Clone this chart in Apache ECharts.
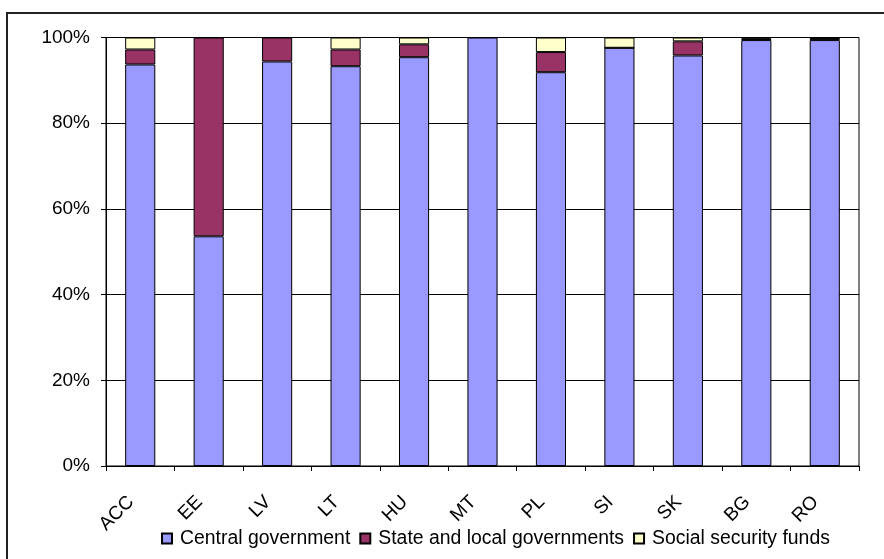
<!DOCTYPE html>
<html>
<head>
<meta charset="utf-8">
<script src="https://cdn.jsdelivr.net/npm/echarts@6/dist/echarts.min.js"></script>
<style>
  html, body { margin: 0; padding: 0; background: #fff; }
  #chart { width: 884px; height: 559px; }
</style>
</head>
<body>
<div id="chart"></div>
<script>
// Share of debt by government sub-sector (%)
const countries = ['ACC', 'EE', 'LV', 'LT', 'HU', 'MT', 'PL', 'SI', 'SK', 'BG', 'RO'];
const centralGov = [93.7, 53.6, 94.4, 93.3, 95.4, 100, 91.9, 97.6, 95.8, 99.4, 99.4];
const stateLocalGov = [3.5, 46.4, 5.6, 3.9, 3.0, 0, 4.7, 0, 3.3, 0.4, 0.5];
const socialSecurity = [2.8, 0, 0, 2.8, 1.6, 0, 3.4, 2.4, 0.9, 0.2, 0.1];
const yTicks = [0, 20, 40, 60, 80, 100];

const font = 'Liberation Sans, Arial, sans-serif';

const chart = echarts.init(document.getElementById('chart'), null, { renderer: 'canvas' });

function barSeries(name, data, color) {
  return {
    name: name,
    type: 'bar',
    stack: 'total',
    data: data,
    barWidth: '44%',
    itemStyle: { color: color, borderColor: '#000', borderWidth: 1 }
  };
}

chart.setOption({
  animation: false,
  backgroundColor: '#fff',
  textStyle: { fontFamily: font },
  grid: { left: 106, right: 25, top: 37.5, bottom: 93, show: true, borderColor: '#000', borderWidth: 1, backgroundColor: 'transparent' },
  legend: {
    bottom: 6,
    left: 156,
    itemWidth: 10,
    itemHeight: 10,
    itemGap: 9,
    icon: 'rect',
    textStyle: { fontSize: 19.4, color: '#000', fontFamily: font, padding: [0, 0, 0, 3] },
    data: ['Central government', 'State and local governments', 'Social security funds']
  },
  xAxis: {
    type: 'category',
    data: countries,
    axisLine: { lineStyle: { color: '#000', width: 1 } },
    axisTick: { show: true, inside: false, length: 5, lineStyle: { color: '#000' } },
    axisLabel: { rotate: 45, color: '#000', fontSize: 19, margin: 24, padding: [0, 13, 0, 0], fontFamily: font },
    splitLine: { show: false }
  },
  yAxis: {
    type: 'value',
    min: yTicks[0],
    max: yTicks[yTicks.length - 1],
    interval: 20,
    axisLine: { show: true, lineStyle: { color: '#000', width: 1 } },
    axisTick: { show: true, length: 5, lineStyle: { color: '#000' } },
    axisLabel: { color: '#000', fontSize: 19, margin: 16, formatter: v => v + '%', fontFamily: font },
    splitLine: { show: true, lineStyle: { color: '#000', width: 1 } }
  },
  graphic: [{
    type: 'rect',
    shape: { x: 7, y: 13, width: 900, height: 600 },
    style: { fill: 'none', stroke: '#222', lineWidth: 2 },
    silent: true
  }],
  series: [
    barSeries('Central government', centralGov, '#9999FF'),
    barSeries('State and local governments', stateLocalGov, '#993366'),
    barSeries('Social security funds', socialSecurity, '#FFFFCC')
  ]
});
</script>
</body>
</html>
